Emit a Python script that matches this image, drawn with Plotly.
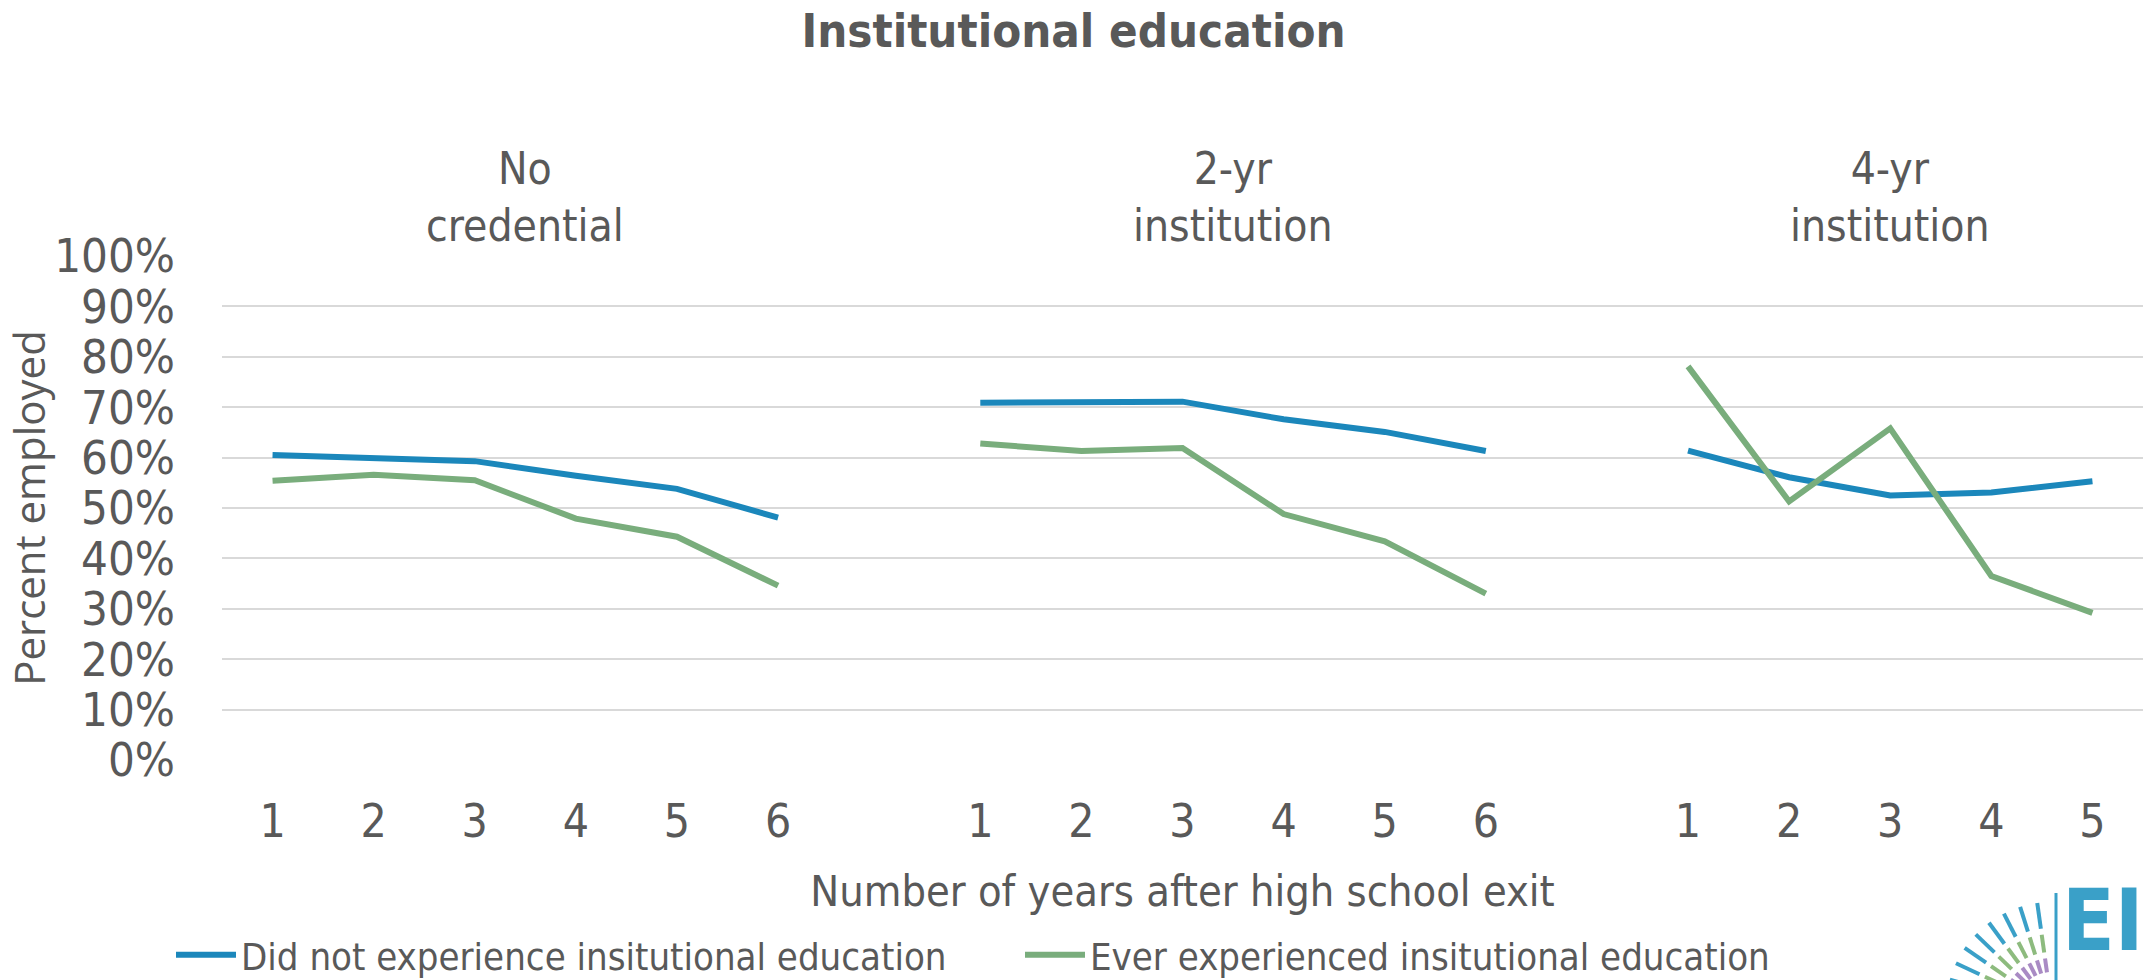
import math
import plotly.graph_objects as go

# Years after high school exit, per credential group
groups = ["No<br>credential", "2-yr<br>institution", "4-yr<br>institution"]
years_no_cred = [1, 2, 3, 4, 5, 6]
years_2yr = [1, 2, 3, 4, 5, 6]
years_4yr = [1, 2, 3, 4, 5]

# Percent employed: did not experience institutional education
no_inst_no_cred = [60.5, 59.9, 59.3, 56.4, 53.8, 48.1]
no_inst_2yr = [70.9, 70.9, 71.1, 67.6, 65.1, 61.3]
no_inst_4yr = [61.4, 56.1, 52.5, 53.1, 55.3]

# Percent employed: ever experienced institutional education
ever_inst_no_cred = [55.4, 56.6, 55.5, 47.9, 44.3, 34.6]
ever_inst_2yr = [62.8, 61.3, 61.9, 48.8, 43.4, 33.0]
ever_inst_4yr = [78.1, 51.3, 65.8, 36.5, 29.2]

series_names = ["Did not experience insitutional education",
                "Ever experienced insitutional education"]
colors = ["#1B87BB", "#79AD7C"]

TEXT = "#595959"
FONT = "Liberation Sans Narrow, DejaVu Sans Condensed, Arial Narrow, sans-serif"

W, H = 2147, 980
M_L, M_R, M_T, M_B = 222, 4, 256, 220

# Lay the three groups out on one category axis with an empty slot between them
year_lists = [years_no_cred, years_2yr, years_4yr]
offsets = []
pos = 0
for yrs in year_lists:
    offsets.append(pos)
    pos += len(yrs) + 1
n_slots = pos - 1

tick_vals, tick_text = [], []
for off, yrs in zip(offsets, year_lists):
    for i, y in enumerate(yrs):
        tick_vals.append(off + i)
        tick_text.append(str(y))

fig = go.Figure()
for name, color, vals in [
    (series_names[0], colors[0], [no_inst_no_cred, no_inst_2yr, no_inst_4yr]),
    (series_names[1], colors[1], [ever_inst_no_cred, ever_inst_2yr, ever_inst_4yr]),
]:
    for g, (off, yrs, v) in enumerate(zip(offsets, year_lists, vals)):
        fig.add_trace(go.Scatter(
            x=[off + i for i in range(len(yrs))],
            y=v,
            mode="lines",
            line=dict(color=color, width=6),
            name=name,
            legendgroup=name,
            showlegend=(g == 0),
            hoverinfo="skip",
        ))

# Group headings above each panel
for off, yrs, label in zip(offsets, year_lists, groups):
    center = off + (len(yrs) - 1) / 2
    fig.add_annotation(
        x=center, y=1.005, xref="x", yref="paper",
        text=label, showarrow=False, yanchor="bottom",
        font=dict(family=FONT, size=44, color=TEXT),
    )


# Publisher mark in the lower right corner (positioned in page pixels)
def px(x):
    return (x - M_L) / (W - M_L - M_R)


def py(y):
    return (H - M_B - y) / (H - M_T - M_B)


LOGO_BLUE = "#3AA0C8"
cx, cy = 2052, 1008
for color, r0, r1 in [(LOGO_BLUE, 80, 106), ("#8DBB7E", 56, 74), ("#A98BC4", 36, 50)]:
    for k in range(8):
        a = math.radians(98 + k * 9.5)
        fig.add_shape(
            type="line", xref="paper", yref="paper",
            x0=px(cx + r0 * math.cos(a)), y0=py(cy - r0 * math.sin(a)),
            x1=px(cx + r1 * math.cos(a)), y1=py(cy - r1 * math.sin(a)),
            line=dict(color=color, width=4),
        )
fig.add_shape(
    type="line", xref="paper", yref="paper",
    x0=px(2056), y0=py(893), x1=px(2056), y1=py(980),
    line=dict(color=LOGO_BLUE, width=3),
)
fig.add_annotation(
    x=px(2146), y=py(868), xref="paper", yref="paper",
    xanchor="right", yanchor="top", showarrow=False,
    text="<b>EI</b>",
    font=dict(family="DejaVu Sans Condensed, DejaVu Sans, sans-serif", size=86, color=LOGO_BLUE),
)

fig.update_layout(
    width=W, height=H,
    margin=dict(l=M_L, r=M_R, t=M_T, b=M_B),
    paper_bgcolor="white", plot_bgcolor="white",
    title=dict(
        text="<b>Institutional education</b>",
        x=0.5, xanchor="center", y=0.986, yanchor="top",
        font=dict(family=FONT, size=47, color=TEXT),
    ),
    showlegend=True,
    legend=dict(
        orientation="h", xref="container", x=171 / W, xanchor="left",
        yref="container", y=1 - 955 / H, yanchor="middle",
        font=dict(family=FONT, size=38, color=TEXT),
        itemwidth=60, tracegroupgap=0,
        entrywidth=774, entrywidthmode="pixels",
        bgcolor="rgba(0,0,0,0)",
    ),
    xaxis=dict(
        range=[-0.5, n_slots - 0.5],
        tickmode="array", tickvals=tick_vals, ticktext=tick_text,
        showgrid=False, zeroline=False, showline=False,
        ticks="", ticklabelstandoff=30,
        tickfont=dict(family=FONT, size=46, color=TEXT),
        title=dict(text="Number of years after high school exit",
                   font=dict(family=FONT, size=43, color=TEXT), standoff=28),
    ),
    yaxis=dict(
        range=[0, 100], dtick=10, ticksuffix="%",
        showgrid=True, gridcolor="#D9D9D9", gridwidth=2,
        zeroline=False, showline=False, ticks="",
        ticklabelstandoff=46,
        tickfont=dict(family=FONT, size=47, color=TEXT),
        title=dict(text="Percent employed",
                   font=dict(family="Open Sans, DejaVu Sans, sans-serif", size=42, color=TEXT),
                   standoff=16),
    ),
)

fig.write_html("out.html")
